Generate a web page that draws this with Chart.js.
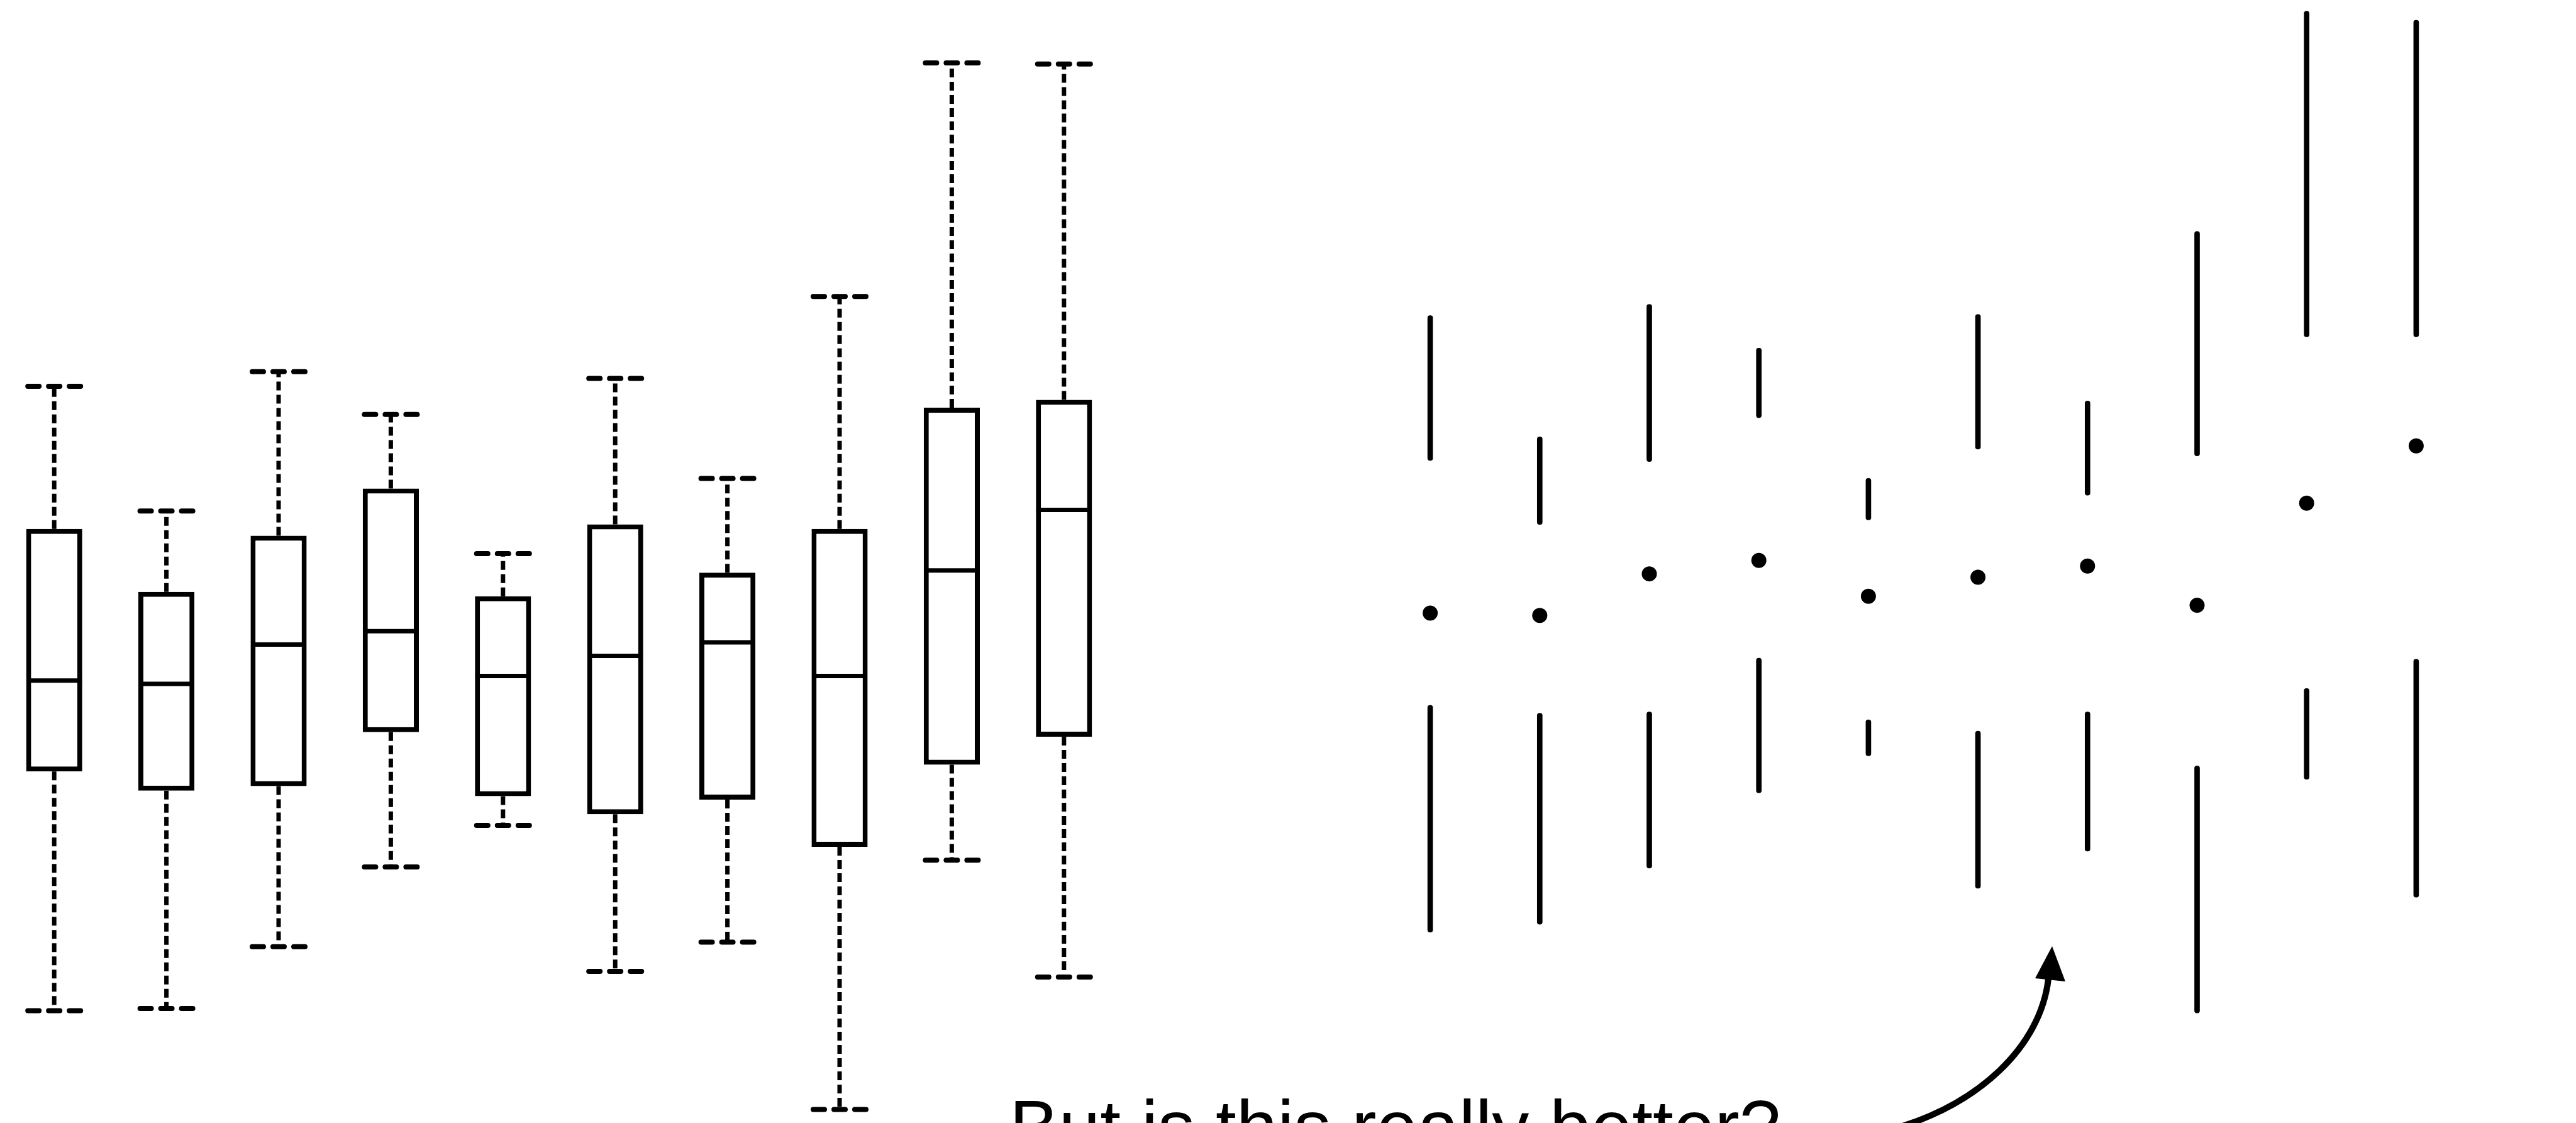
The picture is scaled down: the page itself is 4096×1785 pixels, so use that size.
<!DOCTYPE html>
<html>
<head>
<meta charset="utf-8">
<title>Box plots vs. quartile plots</title>
<script src="https://cdn.jsdelivr.net/npm/chart.js@4"></script>
<style>
  html, body { margin: 0; padding: 0; background: #fff; }
  body { width: 4096px; height: 1785px; overflow: hidden; position: relative; }
  canvas { position: absolute; top: 0; }
  #boxCanvas { left: -3px; }
  #quartileCanvas { left: 2187px; }
  #note {
    position: absolute; left: 1605px; top: 1732px;
    font: 118px/118px "Liberation Sans", Arial, Helvetica, sans-serif;
    color: #000; white-space: nowrap;
  }
</style>
</head>
<body>
<canvas id="boxCanvas" width="1784" height="1785"></canvas>
<canvas id="quartileCanvas" width="1742" height="1785"></canvas>
<div id="note">But is this really better?</div>

<script>
// ============================
// DATA
// ============================
const groups = ["1", "2", "3", "4", "5", "6", "7", "8", "9", "10"];

// left panel: classic box plots
const boxMax    = [65.6, 54.5, 66.9, 63.1, 50.7, 66.3, 57.4, 73.6, 94.4, 94.3];
const boxQ3     = [52.9, 47.3, 52.3, 56.5, 46.9, 53.3, 49.0, 52.9, 63.7, 64.4];
const boxMedian = [39.4, 39.1, 42.6, 43.8, 39.8, 41.6, 42.8, 39.8, 49.2, 54.6];
const boxQ1     = [31.3, 29.6, 30.0, 34.8, 29.1, 27.5, 28.8, 24.6, 31.9, 34.4];
const boxMin    = [10.0, 10.2, 15.7, 22.8, 26.5, 13.5, 16.1, 1.2, 23.4, 13.0];

// right panel: quartile plots (lines + median dot)
const qMax    = [71.9, 61.1, 72.9, 69.0, 57.4, 72.0, 64.3, 79.4, 99.0, 98.2];
const qQ3     = [59.0, 53.3, 58.9, 62.8, 53.7, 60.0, 55.9, 59.4, 70.0, 70.0];
const qMedian = [45.4, 45.2, 48.9, 50.1, 46.9, 48.6, 49.6, 46.1, 55.2, 60.3];
const qQ1     = [37.2, 36.5, 36.6, 41.4, 35.9, 34.9, 36.6, 31.8, 38.7, 41.3];
const qMin    = [17.0, 17.7, 22.7, 29.4, 32.7, 20.9, 24.2, 9.8, 30.6, 20.1];

const ink = "#000";

// shared scale / option setup (axes hidden, chart area = whole canvas)
const baseOptions = {
  responsive: false,
  animation: false,
  devicePixelRatio: 1,
  events: [],
  layout: { padding: 0, autoPadding: false },
  plugins: { legend: { display: false }, tooltip: { enabled: false } },
  scales: {
    x: { type: "category", display: false, offset: true },
    y: { min: 0, max: 100, display: false }
  }
};

// whisker segments as one broken line: q -> extreme, gap, ...
const segmentPoints = (from, to) =>
  groups.flatMap((g, i) => [{ x: g, y: from[i] }, { x: g, y: to[i] }, { x: g, y: null }]);

// ============================
// WHISKER CAPS  ( - T - )
// ============================
const capPlugin = {
  id: "whiskerCaps",
  afterDatasetsDraw(chart) {
    const { ctx, scales: { x, y } } = chart;
    ctx.save();
    ctx.strokeStyle = ink;
    ctx.lineWidth = 8;
    ctx.lineCap = "round";
    groups.forEach((g, i) => {
      const cx = x.getPixelForValue(i);
      [boxMax[i], boxMin[i]].forEach(v => {
        const cy = y.getPixelForValue(v);
        [[-42, -24], [-9, 9], [24, 42]].forEach(([a, b]) => {
          ctx.beginPath();
          ctx.moveTo(cx + a, cy);
          ctx.lineTo(cx + b, cy);
          ctx.stroke();
        });
      });
    });
    ctx.restore();
  }
};

// ============================
// LEFT: BOX PLOTS
// ============================
new Chart(document.getElementById("boxCanvas"), {
  type: "bar",
  data: {
    labels: groups,
    datasets: [
      {
        type: "line",
        label: "median",
        data: boxMedian,
        showLine: false,
        pointStyle: "line",
        pointRadius: 44,
        pointHoverRadius: 44,
        pointBorderWidth: 7,
        pointBorderColor: ink,
        order: 0
      },
      {
        type: "line",
        label: "upper whisker",
        data: segmentPoints(boxQ3, boxMax),
        borderColor: ink,
        borderWidth: 7,
        borderDash: [14, 7],
        borderCapStyle: "butt",
        pointRadius: 0,
        spanGaps: false,
        order: 1
      },
      {
        type: "line",
        label: "lower whisker",
        data: segmentPoints(boxQ1, boxMin),
        borderColor: ink,
        borderWidth: 7,
        borderDash: [14, 7],
        borderCapStyle: "butt",
        pointRadius: 0,
        spanGaps: false,
        order: 1
      },
      {
        label: "box",
        data: groups.map((g, i) => [boxQ1[i], boxQ3[i]]),
        backgroundColor: "#fff",
        borderColor: ink,
        borderWidth: 8,
        borderSkipped: false,
        barPercentage: 0.5,
        categoryPercentage: 1,
        order: 2
      }
    ]
  },
  options: baseOptions,
  plugins: [capPlugin]
});

// ============================
// ANNOTATION ARROW
// ============================
const arrowPlugin = {
  id: "arrow",
  afterDraw(chart) {
    const { ctx } = chart;
    const ox = chart.canvas.offsetLeft;
    ctx.save();
    ctx.translate(-ox, 0);
    ctx.strokeStyle = ink;
    ctx.fillStyle = ink;
    ctx.lineWidth = 10;
    ctx.lineCap = "butt";
    ctx.beginPath();
    ctx.moveTo(2990, 1800);
    ctx.bezierCurveTo(3150, 1760, 3245, 1660, 3257, 1556);
    ctx.stroke();
    // head
    ctx.beginPath();
    ctx.moveTo(3263, 1504);
    ctx.lineTo(3284, 1560);
    ctx.lineTo(3236, 1555);
    ctx.closePath();
    ctx.fill();
    ctx.restore();
  }
};

// ============================
// RIGHT: QUARTILE PLOTS
// ============================
new Chart(document.getElementById("quartileCanvas"), {
  type: "bar",
  data: {
    labels: groups,
    datasets: [
      {
        type: "line",
        label: "median",
        data: qMedian,
        showLine: false,
        pointStyle: "circle",
        pointRadius: 12,
        pointHoverRadius: 12,
        pointBackgroundColor: ink,
        pointBorderWidth: 0,
        order: 0
      },
      {
        label: "upper quarter",
        data: groups.map((g, i) => [qQ3[i], qMax[i]]),
        backgroundColor: ink,
        barThickness: 8,
        borderRadius: 4,
        borderSkipped: false,
        grouped: false,
        order: 1
      },
      {
        label: "lower quarter",
        data: groups.map((g, i) => [qMin[i], qQ1[i]]),
        backgroundColor: ink,
        barThickness: 8,
        borderRadius: 4,
        borderSkipped: false,
        grouped: false,
        order: 1
      }
    ]
  },
  options: baseOptions,
  plugins: [arrowPlugin]
});
</script>
</body>
</html>
